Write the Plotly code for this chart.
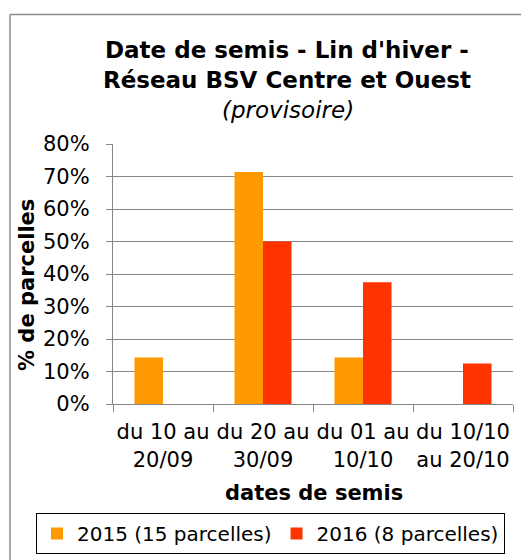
import plotly.graph_objects as go

categories = ["du 10 au<br>20/09", "du 20 au<br>30/09", "du 01 au<br>10/10", "du 10/10<br>au 20/10"]
series_2015 = [14.3, 71.4, 14.3, 0]
series_2016 = [0, 50, 37.5, 12.5]
name_2015 = "2015 (15 parcelles)"
name_2016 = "2016 (8 parcelles)"
y_ticks = [0, 10, 20, 30, 40, 50, 60, 70, 80]
y_tick_labels = ["0%", "10%", "20%", "30%", "40%", "50%", "60%", "70%", "80%"]

FONT = "DejaVu Sans, Verdana, sans-serif"
OFF = 8  # page body margin
W, H = 529 - OFF, 560 - OFF
# plot area in page pixels: x 113..513, y 144..404
L, T = 113 - OFF, 144 - OFF
R = W - (513 - OFF)
B = H - (404 - OFF)
pw, ph = W - L - R, H - T - B

def px_x(x):
    return (x - OFF - L) / pw

def px_y(y):
    return (H - B - (y - OFF)) / ph

fig = go.Figure()
fig.add_trace(go.Bar(x=categories, y=series_2015, name=name_2015, marker=dict(color="#FF9900", line=dict(width=0))))
fig.add_trace(go.Bar(x=categories, y=series_2016, name=name_2016, marker=dict(color="#FF3300", line=dict(width=0))))

grid = "#878787"
border = "#8a8a8a"
fig.update_layout(
    width=W, height=H,
    margin=dict(l=L, r=R, t=T, b=B, pad=0, autoexpand=False),
    paper_bgcolor="white", plot_bgcolor="white",
    font=dict(family=FONT, size=21, color="black"),
    barmode="group", bargap=0.43, bargroupgap=0,
    showlegend=True,
    legend=dict(orientation="h", xref="paper", x=px_x(36), xanchor="left",
                yref="paper", y=px_y(513), yanchor="top",
                bordercolor="black", borderwidth=1, font=dict(size=20), bgcolor="white",
                itemwidth=30, tracegroupgap=0),
    xaxis=dict(showline=True, linecolor=grid, linewidth=1.3, ticks="outside", tickson="boundaries",
               ticklen=7, tickcolor=grid, tickwidth=1.3, showgrid=False, tickangle=0,
               ticklabelstandoff=9,
               tickfont=dict(size=21), fixedrange=True, automargin=False),
    yaxis=dict(range=[0, 80], tickvals=y_ticks, ticktext=y_tick_labels, showgrid=True, gridcolor=grid,
               gridwidth=1.3, showline=True, linecolor=grid, linewidth=1.3, ticks="outside",
               ticklen=6, tickcolor=grid, tickwidth=1.3, tickfont=dict(size=21),
               ticklabelstandoff=12, zeroline=False, fixedrange=True, automargin=False),
    shapes=[
        dict(type="line", xref="paper", yref="paper", x0=px_x(10), x1=px_x(10), y0=px_y(640), y1=px_y(14.5),
             line=dict(color=border, width=1.5), layer="below"),
        dict(type="line", xref="paper", yref="paper", x0=px_x(10), x1=px_x(640), y0=px_y(14.5), y1=px_y(14.5),
             line=dict(color=border, width=1.5), layer="below"),
    ],
    annotations=[
        dict(text="<b>Date de semis - Lin d'hiver -</b>", x=px_x(287), y=px_y(50), xref="paper", yref="paper",
             showarrow=False, xanchor="center", yanchor="middle", font=dict(size=23)),
        dict(text="<b>Réseau BSV Centre et Ouest</b>", x=px_x(287), y=px_y(80), xref="paper", yref="paper",
             showarrow=False, xanchor="center", yanchor="middle", font=dict(size=23)),
        dict(text="<i>(provisoire)</i>", x=px_x(288), y=px_y(110), xref="paper", yref="paper",
             showarrow=False, xanchor="center", yanchor="middle", font=dict(size=23)),
        dict(text="<b>dates de semis</b>", x=px_x(314), y=px_y(493), xref="paper", yref="paper",
             showarrow=False, xanchor="center", yanchor="middle", font=dict(size=21)),
        dict(text="<b>% de parcelles</b>", x=px_x(27), y=px_y(285), xref="paper", yref="paper",
             showarrow=False, xanchor="center", yanchor="middle", textangle=-90, font=dict(size=21)),
    ],
)

fig.write_html("out.html")
